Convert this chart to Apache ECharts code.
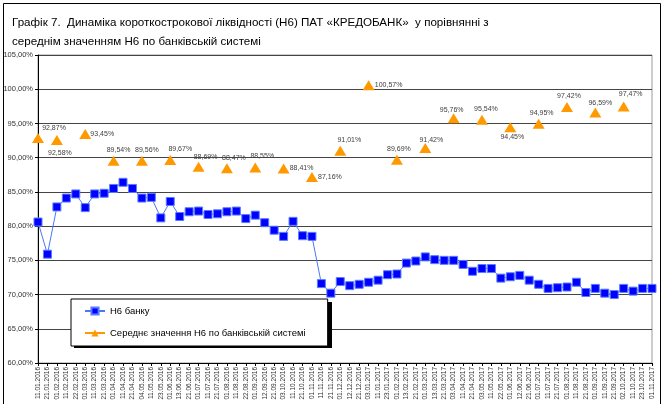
<!DOCTYPE html>
<html>
<head>
<meta charset="utf-8">
<script src="https://cdn.jsdelivr.net/npm/echarts@6/dist/echarts.min.js"></script>
<style>
  html, body { margin: 0; padding: 0; background: #fff; }
  #chart { width: 664px; height: 404px; }
</style>
</head>
<body>
<div id="chart"></div>
<script>
// dates of the observations
const categories = [
  '11.01.2016', '21.01.2016', '01.02.2016', '11.02.2016', '22.02.2016', '01.03.2016',
  '11.03.2016', '21.03.2016', '01.04.2016', '11.04.2016', '21.04.2016', '04.05.2016',
  '11.05.2016', '23.05.2016', '01.06.2016', '13.06.2016', '21.06.2016', '01.07.2016',
  '11.07.2016', '21.07.2016', '01.08.2016', '11.08.2016', '22.08.2016', '01.09.2016',
  '12.09.2016', '21.09.2016', '03.10.2016', '11.10.2016', '21.10.2016', '01.11.2016',
  '11.11.2016', '21.11.2016', '01.12.2016', '12.12.2016', '21.12.2016', '03.01.2017',
  '11.01.2017', '23.01.2017', '01.02.2017', '13.02.2017', '21.02.2017', '01.03.2017',
  '13.03.2017', '21.03.2017', '03.04.2017', '11.04.2017', '21.04.2017', '03.05.2017',
  '11.05.2017', '22.05.2017', '01.06.2017', '12.06.2017', '21.06.2017', '01.07.2017',
  '11.07.2017', '21.07.2017', '01.08.2017', '11.08.2017', '21.08.2017', '01.09.2017',
  '11.09.2017', '21.09.2017', '02.10.2017', '11.10.2017', '23.10.2017', '01.11.2017'
]

// Н6 банку, %
const bankH6 = [
  80.6, 75.9, 82.8, 84.1, 84.7, 82.7, 84.7, 84.8, 85.5, 86.4, 85.5, 84.1,
  84.2, 81.2, 83.6, 81.4, 82.1, 82.2, 81.7, 81.8, 82.1, 82.2, 81.1, 81.6,
  80.5, 79.4, 78.5, 80.7, 78.6, 78.5, 71.6, 70.2, 71.9, 71.3, 71.5, 71.8,
  72.1, 72.9, 73.0, 74.6, 74.9, 75.5, 75.1, 75.0, 75.0, 74.4, 73.4, 73.8,
  73.8, 72.4, 72.6, 72.8, 72.1, 71.5, 70.9, 71.0, 71.1, 71.8, 70.3, 70.9,
  70.2, 70.0, 70.9, 70.5, 70.9, 70.9
]

// середнє значення Н6 по банківській системі, %
const systemH6 = [
  92.87, null, 92.58, null, null, 93.45, null, null, 89.54, null, null, 89.56,
  null, null, 89.67, null, null, 88.69, null, null, 88.47, null, null, 88.55,
  null, null, 88.41, null, null, 87.16, null, null, 91.01, null, null, 100.57,
  null, null, 89.69, null, null, 91.42, null, null, 95.76, null, null, 95.54,
  null, null, 94.45, null, null, 94.95, null, null, 97.42, null, null, 96.59,
  null, null, 97.47, null, null, null
]

const yTicks = { min: 60, max: 105, step: 5 }

// label placement for the average series: offset of label centre from marker centre
const labelShift = {
  0: [16, -10], 2: [3, 13], 5: [17, 0], 8: [5, -11], 11: [5, -11], 14: [10, -11],
  17: [7, -10], 20: [7, -10], 23: [7, -12], 26: [18, 0], 29: [18, 0], 32: [9, -11],
  35: [20, 0], 38: [2, -11], 41: [6, -8], 44: [-2, -8], 47: [4, -11], 50: [2, 10],
  53: [3, -11], 56: [2, -11], 59: [5, -9], 62: [7, -12]
}

const pct = v => v.toFixed(2).replace('.', ',') + '%'

const TRI_W = 12
const TRI_H = 10

const systemData = systemH6.map((v, i) => {
  if (v === null) return '-'
  const s = labelShift[i] || [0, -11]
  return {
    value: v,
    label: { position: [TRI_W / 2 + s[0], TRI_H / 2 + s[1]] }
  }
})

const chart = echarts.init(document.getElementById('chart'))

const font = 'Liberation Sans'

chart.setOption({
  animation: false,
  title: {
    text: 'Графік 7.  Динаміка короткострокової ліквідності (Н6) ПАТ «КРЕДОБАНК»  у порівнянні з\nсереднім значенням Н6 по банківській системі',
    left: 7,
    top: 8,
    textStyle: {
      fontFamily: font,
      fontSize: 11.6,
      fontWeight: 'normal',
      lineHeight: 19,
      color: '#000'
    }
  },
  graphic: [
    {
      type: 'polyline',
      shape: { points: [[3.5, 410], [3.5, 3.5], [660.5, 3.5], [660.5, 410]] },
      style: { stroke: '#000', lineWidth: 1, fill: null }
    },
    {
      // drop shadow of the legend box
      type: 'rect',
      z: 5,
      shape: { x: 74, y: 302, width: 258, height: 46 },
      style: { fill: '#000' }
    }
  ],
  legend: {
    orient: 'vertical',
    left: 71,
    top: 299,
    z: 6,
    itemWidth: 20,
    itemHeight: 9,
    itemGap: 12,
    padding: [7, 22, 8, 13],
    backgroundColor: '#fff',
    borderColor: '#000',
    borderWidth: 1,
    textStyle: { fontFamily: font, fontSize: 9.5, color: '#000' },
    data: ['Н6 банку', 'Середнє значення Н6 по банківській системі']
  },
  grid: {
    left: 38,
    right: 12,
    top: 55,
    bottom: 41,
    show: true,
    borderColor: '#999',
    borderWidth: 1
  },
  xAxis: {
    type: 'category',
    data: categories,
    boundaryGap: false,
    axisLine: { lineStyle: { color: '#000' } },
    axisTick: { interval: 0, length: 3, lineStyle: { color: '#000' } },
    axisLabel: {
      interval: 0,
      rotate: 90,
      fontFamily: font,
      fontSize: 6.5,
      color: '#333',
      margin: 4
    }
  },
  yAxis: {
    type: 'value',
    min: yTicks.min,
    max: yTicks.max,
    interval: yTicks.step,
    axisLine: { show: true, lineStyle: { color: '#000' } },
    axisTick: { show: true, length: 3, lineStyle: { color: '#000' } },
    splitLine: { lineStyle: { color: '#444', width: 1 } },
    axisLabel: {
      formatter: v => pct(v),
      fontFamily: font,
      fontSize: 7.5,
      color: '#333',
      margin: 5
    }
  },
  series: [
    {
      name: 'Н6 банку',
      type: 'line',
      data: bankH6,
      symbol: 'rect',
      symbolSize: 8,
      lineStyle: { color: '#4a78f5', width: 1 },
      itemStyle: { color: '#0000ff', borderColor: '#5a7dff', borderWidth: 1 },
      z: 3
    },
    {
      name: 'Середнє значення Н6 по банківській системі',
      type: 'line',
      data: systemData,
      connectNulls: false,
      symbol: 'triangle',
      symbolSize: [TRI_W, TRI_H],
      lineStyle: { color: '#ff9900', width: 1 },
      itemStyle: { color: '#ff9900' },
      label: {
        show: true,
        formatter: p => pct(p.value),
        align: 'center',
        verticalAlign: 'middle',
        fontFamily: font,
        fontSize: 7,
        color: '#404040'
      },
      z: 4
    }
  ]
})
</script>
</body>
</html>
